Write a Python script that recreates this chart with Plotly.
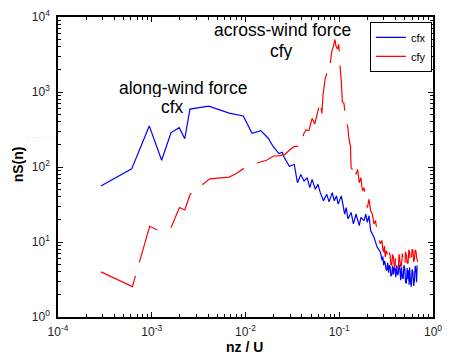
import plotly.graph_objects as go

# Normalised frequency nz/U and spectra nS(n) for the along-wind (cfx) force
freq_cfx = [2.87e-4, 6.11e-4, 9.41e-4, 1.275e-3, 1.608e-3, 1.963e-3, 2.25e-3, 2.554e-3,
            4.05e-3, 6.70e-3, 9.46e-3, 1.174e-2, 1.457e-2, 1.747e-2, 1.97e-2, 2.273e-2,
            2.466e-2, 2.606e-2, 2.938e-2, 3.311e-2, 3.583e-2, 3.888e-2, 4.207e-2, 4.552e-2,
            4.858e-2, 5.133e-2, 5.567e-2, 5.925e-2, 6.276e-2, 6.79e-2, 7.35e-2, 7.785e-2,
            8.42e-2, 8.84e-2, 9.34e-2, 9.73e-2, 0.1053, 0.1142, 0.1187, 0.1237,
            0.1338, 0.1416, 0.1508, 0.1636, 0.1700, 0.1843, 0.1916, 0.1995,
            0.2078, 0.2160, 0.2343, 0.2535, 0.2745,
            0.2858, 0.2915, 0.2977, 0.3035, 0.3093, 0.3155, 0.3222, 0.3285,
            0.3356, 0.3420, 0.3486, 0.3555, 0.3631, 0.3700, 0.3783, 0.3855,
            0.3930, 0.4010, 0.4094, 0.4180, 0.4264, 0.4345, 0.4430, 0.4520,
            0.4613, 0.4710, 0.4805, 0.4900, 0.4993, 0.5100, 0.5201, 0.5300,
            0.5416, 0.5495, 0.5560, 0.5628, 0.5740, 0.5862, 0.5980, 0.6105,
            0.6220, 0.6343, 0.6460, 0.6607, 0.6680, 0.6767]
spec_cfx = [55.8, 94.4, 353, 123, 288, 335, 238, 592,
            648, 524, 479, 282, 306, 242, 188, 151,
            157, 132, 102.5, 108, 61.7, 79.6, 64.9, 71.8,
            53.0, 68.4, 50.5, 58.7, 45.5, 35.4, 43.4, 34.3,
            45.5, 35.4, 41.2, 32.0, 41.2, 23.6, 28.8, 20.3,
            24.8, 17.4, 23.6, 16.5, 21.3, 19.3, 23.6, 18.3,
            22.4, 14.2, 11.6, 8.55, 7.35,
            5.71, 6.4, 4.9, 5.6, 5.16, 4.3, 4.21, 5.3,
            3.9, 4.9, 4.66, 3.5, 3.62, 4.8, 3.7, 4.6,
            4.44, 3.4, 4.9, 3.6, 3.81, 5.0, 4.44, 3.1,
            4.6, 3.3, 3.27, 4.9, 4.44, 2.9, 2.81, 4.5,
            3.2, 4.21, 2.7, 4.6, 3.0, 2.54, 4.3, 4.00,
            2.6, 3.11, 4.8, 4.00, 2.9, 4.90]

# Across-wind (cfy) force spectrum
freq_cfy = [2.87e-4, 6.22e-4, 6.63e-4, 7.35e-4, 9.50e-4, 1.131e-3, 1.594e-3, 1.977e-3,
            2.25e-3, 2.572e-3, 3.46e-3, 4.15e-3, 6.70e-3, 7.87e-3, 9.46e-3, 1.323e-2,
            1.681e-2, 1.97e-2, 2.312e-2, 2.606e-2, 2.938e-2, 3.311e-2, 3.98e-2, 4.157e-2,
            4.414e-2, 4.742e-2, 5.133e-2, 5.474e-2, 5.925e-2, 6.276e-2, 6.52e-2, 6.71e-2,
            7.07e-2, 7.35e-2, 7.785e-2, 7.97e-2, 8.29e-2, 8.78e-2, 8.99e-2, 9.21e-2,
            9.57e-2, 9.89e-2, 0.1013, 0.1053, 0.1078, 0.1123, 0.1159, 0.1237,
            0.1266, 0.1318, 0.1338, 0.1427, 0.1472, 0.1508, 0.1571, 0.1636,
            0.1700, 0.1770, 0.1843, 0.1916, 0.1995, 0.2078, 0.2160, 0.2250,
            0.2343, 0.2434, 0.2535, 0.2641, 0.2745,
            0.2858, 0.2915, 0.2977, 0.3035, 0.3093, 0.3155, 0.3222, 0.3285,
            0.3356, 0.3420, 0.3486, 0.3555, 0.3631, 0.3700, 0.3783, 0.3855,
            0.3930, 0.4010, 0.4094, 0.4180, 0.4264, 0.4345, 0.4430, 0.4520,
            0.4613, 0.4710, 0.4805, 0.4900, 0.4993, 0.5100, 0.5201, 0.5300,
            0.5416, 0.5520, 0.5628, 0.5740, 0.5862, 0.5980, 0.6105, 0.6220,
            0.6343, 0.6460, 0.6607, 0.6680, 0.688]
spec_cfy = [4.00, 2.54, 3.37, 5.26, 16.2, 14.6, 15.2, 28.8,
            26.7, 43.4, 58.0, 69.6, 73.3, 81.1, 94.4, 113,
            123, 139, 142, 146, 167, 188, 188, 271,
            313, 306, 445, 373, 562, 762, 518, 906,
            1500, 1747, 1694, 2255, 3379, 4348, 5016, 4142,
            3735, 4308, 2493, 1357, 739, 702, 493, 328,
            242, 188, 97.3, 88.1, 102.5, 79.6, 92.7, 61.7,
            71.8, 47.9, 53.0, 37.6, 28.8, 37.2, 26.1, 23.6,
            17.4, 19.3, 14.2, 11.0, 9.48,
            10.5, 7.9, 7.35, 8.8, 6.31, 7.6, 7.35, 5.6,
            5.71, 7.2, 6.64, 5.0, 4.90, 6.8, 6.31, 4.8,
            4.66, 6.6, 6.01, 4.6, 4.44, 6.9, 5.71, 4.7,
            4.90, 7.0, 6.01, 4.8, 4.66, 7.4, 6.64, 5.3,
            5.16, 7.9, 7.35, 5.0, 5.42, 8.0, 7.73, 5.4,
            6.01, 7.9, 7.35, 6.2, 5.42]

x_tickvals = [1e-4, 1e-3, 1e-2, 1e-1, 1]
x_ticktext = ["10<sup>-4</sup>", "10<sup>-3</sup>", "10<sup>-2</sup>", "10<sup>-1</sup>", "10<sup>0</sup>"]
y_tickvals = [1, 10, 100, 1000, 10000]
y_ticktext = ["10<sup>0</sup>", "10<sup>1</sup>", "10<sup>2</sup>", "10<sup>3</sup>", "10<sup>4</sup>"]

FONT = "Liberation Sans, Arial, sans-serif"


def minor_vals(lo, hi):
    vals = []
    for e in range(lo, hi):
        for m in range(2, 10):
            vals.append(m * 10.0 ** e)
    return vals


fig = go.Figure()
fig.add_trace(go.Scatter(x=freq_cfx, y=spec_cfx, mode="lines", name="cfx",
                         line=dict(color="#0000ff", width=1.2, simplify=False)))
fig.add_trace(go.Scatter(x=freq_cfy, y=spec_cfy, mode="lines", name="cfy",
                         line=dict(color="#ff0000", width=1.2, dash="46px,14px", simplify=False)))

axis_common = dict(
    type="log", showgrid=False, zeroline=False, showline=True, linecolor="black",
    linewidth=1.5, mirror="allticks", ticks="inside", ticklen=5, tickwidth=1,
    tickcolor="black", tickfont=dict(family=FONT, size=12, color="#222"),
)

fig.update_xaxes(range=[-4, 0], tickvals=x_tickvals, ticktext=x_ticktext,
                 ticklabelstandoff=3,
                 minor=dict(tickvals=minor_vals(-4, 0), ticks="inside", ticklen=3,
                            tickcolor="black", showgrid=False),
                 **axis_common)
fig.update_yaxes(range=[0, 4], tickvals=y_tickvals, ticktext=y_ticktext,
                 ticklabelstandoff=4,
                 minor=dict(tickvals=minor_vals(0, 4), ticks="inside", ticklen=3,
                            tickcolor="black", showgrid=False),
                 **axis_common)

labels = [
    ("along-wind force", 0.3336, 0.763),
    ("cfx", 0.3042, 0.6995),
    ("across-wind force", 0.5996, 0.956),
    ("cfy", 0.5949, 0.8868),
]
for text, px, py in labels:
    fig.add_annotation(text=text, x=px, y=py, xref="paper", yref="paper",
                       xanchor="center", yanchor="middle", showarrow=False,
                       height=18, borderpad=0,
                       font=dict(family=FONT, size=17.5, color="black"))

fig.add_annotation(text="<b>nz / U</b>", x=0.4974, y=-0.098, xref="paper", yref="paper",
                   xanchor="center", yanchor="middle", showarrow=False,
                   height=15, borderpad=0,
                   font=dict(family=FONT, size=14, color="black"))
fig.add_annotation(text="<b>nS(n)</b>", x=-0.1066, y=0.509, xref="paper", yref="paper",
                   xanchor="center", yanchor="middle", showarrow=False, textangle=-90,
                   font=dict(family=FONT, size=14, color="black"))
fig.add_annotation(text="·· ····· ······", x=-0.05, y=0.6, xref="paper", yref="paper",
                   xanchor="center", yanchor="middle", showarrow=False,
                   font=dict(family=FONT, size=5, color="#b0b0b0"))

fig.update_layout(
    width=450, height=355,
    margin=dict(l=58, r=8, t=14, b=38),
    paper_bgcolor="white", plot_bgcolor="white",
    showlegend=True,
    legend=dict(x=0.997, y=0.984, xanchor="right", yanchor="top",
                bgcolor="white", bordercolor="black", borderwidth=1,
                font=dict(family=FONT, size=11, color="black"),
                tracegroupgap=0, itemwidth=30),
)

fig.write_html("out.html")
